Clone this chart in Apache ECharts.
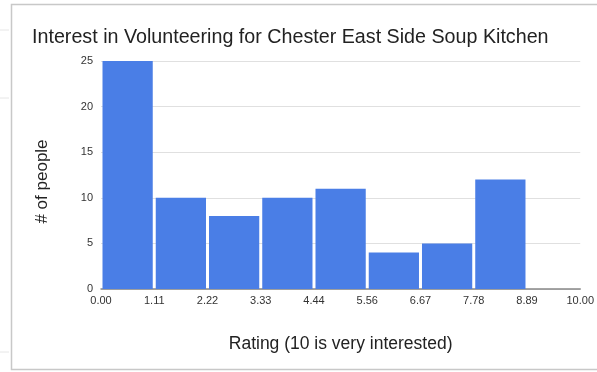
<!DOCTYPE html>
<html>
<head>
<meta charset="utf-8">
<script src="https://cdn.jsdelivr.net/npm/echarts@6/dist/echarts.min.js"></script>
<style>
  html, body { margin: 0; padding: 0; background: #fff; }
  #chart { width: 597px; height: 372px; }
</style>
</head>
<body>
<div id="chart"></div>
<script>
// Histogram of volunteer interest ratings
const binStarts = [0, 10/9, 20/9, 30/9, 40/9, 50/9, 60/9, 70/9, 80/9];
const binWidth = 10 / 9;
const counts = [25, 10, 8, 10, 11, 4, 5, 12, 0];
const yTicks = [0, 5, 10, 15, 20, 25];

const chart = echarts.init(document.getElementById('chart'));

const data = binStarts.map((s, i) => [s, s + binWidth, counts[i]]);
const font = 'Liberation Sans, Arial, sans-serif';

chart.setOption({
  animation: false,
  backgroundColor: '#fff',
  title: {
    text: 'Interest in Volunteering for Chester East Side Soup Kitchen',
    left: 27,
    top: 23,
    textStyle: { fontFamily: font, fontSize: 19.7, fontWeight: 'normal', color: '#222' }
  },
  graphic: [
    // card outline
    { type: 'polyline', shape: { points: [[597, 4.5], [11.5, 4.5], [11.5, 369.5], [597, 369.5]] },
      style: { stroke: '#c8c8c8', lineWidth: 1.5, fill: null } },
    // faint spreadsheet cell edges outside the card
    { type: 'line', shape: { x1: 0, y1: 30, x2: 9, y2: 30 }, style: { stroke: '#e6e6e6', lineWidth: 1 } },
    { type: 'line', shape: { x1: 0, y1: 98, x2: 9, y2: 98 }, style: { stroke: '#e6e6e6', lineWidth: 1 } },
    { type: 'line', shape: { x1: 0, y1: 352, x2: 9, y2: 352 }, style: { stroke: '#e6e6e6', lineWidth: 1 } }
  ],
  grid: { left: 101, right: 13, top: 61, bottom: 83 },
  xAxis: {
    type: 'value',
    min: 0,
    max: 10,
    interval: 10 / 9,
    name: 'Rating (10 is very interested)',
    nameLocation: 'middle',
    nameGap: 46,
    nameTextStyle: { fontFamily: font, fontSize: 17.5, color: '#222' },
    axisLine: { show: true, lineStyle: { color: '#888', width: 1.5 } },
    axisTick: { show: false },
    splitLine: { show: false },
    axisLabel: {
      fontFamily: font, fontSize: 11, color: '#333', margin: 6,
      formatter: v => v.toFixed(2)
    }
  },
  yAxis: {
    type: 'value',
    min: yTicks[0],
    max: yTicks[yTicks.length - 1],
    interval: 5,
    name: '# of people',
    nameLocation: 'middle',
    nameGap: 50,
    nameRotate: 90,
    nameTextStyle: { fontFamily: font, fontSize: 17, color: '#222', padding: [0, 13, 0, 0] },
    axisLine: { show: false },
    axisTick: { show: false },
    splitLine: { lineStyle: { color: '#e0e0e0', width: 1 } },
    axisLabel: { fontFamily: font, fontSize: 11, color: '#333', margin: 8 }
  },
  series: [{
    type: 'custom',
    data: data,
    encode: { x: [0, 1], y: 2 },
    renderItem: function (params, api) {
      const p0 = api.coord([api.value(0), 0]);
      const p1 = api.coord([api.value(1), api.value(2)]);
      const x = p0[0] + 1.5;
      const w = p1[0] - p0[0] - 3;
      return {
        type: 'rect',
        shape: { x: x, y: p1[1], width: w, height: p0[1] - p1[1] },
        style: { fill: '#4a7ee6' }
      };
    }
  }]
});
</script>
</body>
</html>
